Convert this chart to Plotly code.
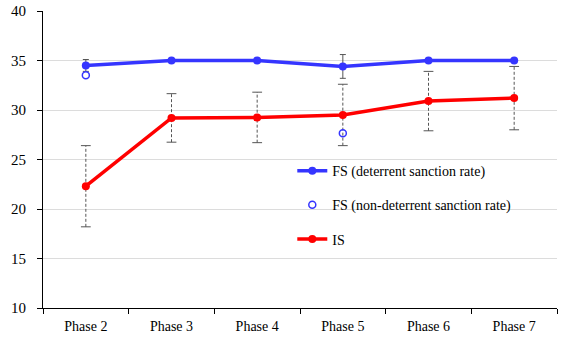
import plotly.graph_objects as go

phases = ["Phase 2", "Phase 3", "Phase 4", "Phase 5", "Phase 6", "Phase 7"]

# FS, deterrent sanction rate (mean and error)
fs_det = [34.5, 35.0, 35.0, 34.4, 35.0, 35.0]
fs_det_err = [0.6, 0.0, 0.0, 1.2, 0.0, 0.0]

# FS, non-deterrent sanction rate (only observed in two phases)
fs_nondet_phases = ["Phase 2", "Phase 5"]
fs_nondet = [33.5, 27.65]

# IS (mean and error)
is_vals = [22.3, 29.2, 29.25, 29.5, 30.9, 31.2]
is_err = [4.1, 2.45, 2.55, 3.1, 3.0, 3.2]

BLUE = "#3535FF"
RED = "#FF0000"
ERR = "#555555"
FONT = "Times New Roman"

fig = go.Figure()

# dashed error bars for IS
for p, v, e in zip(phases, is_vals, is_err):
    fig.add_trace(go.Scatter(
        x=[p, p], y=[v - e, v + e], mode="lines+markers",
        line=dict(color=ERR, width=1, dash="3px,2px"),
        marker=dict(symbol="line-ew-open", size=7, color=ERR, line=dict(width=1, color=ERR)),
        showlegend=False, hoverinfo="skip"))

fig.add_trace(go.Scatter(
    x=phases, y=fs_det, mode="lines+markers", name="FS (deterrent sanction rate)",
    line=dict(color=BLUE, width=3.5), marker=dict(size=8, color=BLUE),
    error_y=dict(type="data", array=fs_det_err, color=ERR, thickness=1, width=3),
    legendgroup="a"))

fig.add_trace(go.Scatter(
    x=fs_nondet_phases, y=fs_nondet, mode="markers", name="FS (non-deterrent sanction rate)",
    marker=dict(size=7, color=BLUE, symbol="circle-open", line=dict(color=BLUE, width=1.5)),
    legendgroup="b"))

fig.add_trace(go.Scatter(
    x=phases, y=is_vals, mode="lines+markers", name="IS",
    line=dict(color=RED, width=3.5), marker=dict(size=8, color=RED),
    legendgroup="c"))

fig.update_layout(
    width=569, height=341,
    margin=dict(l=43, r=12, t=11, b=33, autoexpand=False),
    paper_bgcolor="white", plot_bgcolor="white",
    font=dict(family=FONT, size=14, color="black"),
    legend=dict(x=0.485, y=0.515, xanchor="left", yanchor="top",
                bgcolor="rgba(0,0,0,0)", traceorder="grouped", tracegroupgap=13,
                font=dict(family=FONT, size=14)),
    xaxis=dict(type="category", categoryorder="array", categoryarray=phases,
               range=[-0.5, 5.5], showgrid=False, showline=True, linecolor="black",
               linewidth=1, ticks="outside", tickson="boundaries", ticklen=5,
               tickcolor="black", tickfont=dict(family=FONT, size=14), automargin=False,
               ticklabelstandoff=5),
    yaxis=dict(range=[10, 40], dtick=5, showgrid=True, gridcolor="#DCDCDC", gridwidth=1,
               showline=True, linecolor="black", linewidth=1, ticks="outside", ticklen=5,
               tickcolor="black", zeroline=False, tickfont=dict(family=FONT, size=15),
               automargin=False, ticklabelstandoff=8),
)

fig.write_html("out.html")
